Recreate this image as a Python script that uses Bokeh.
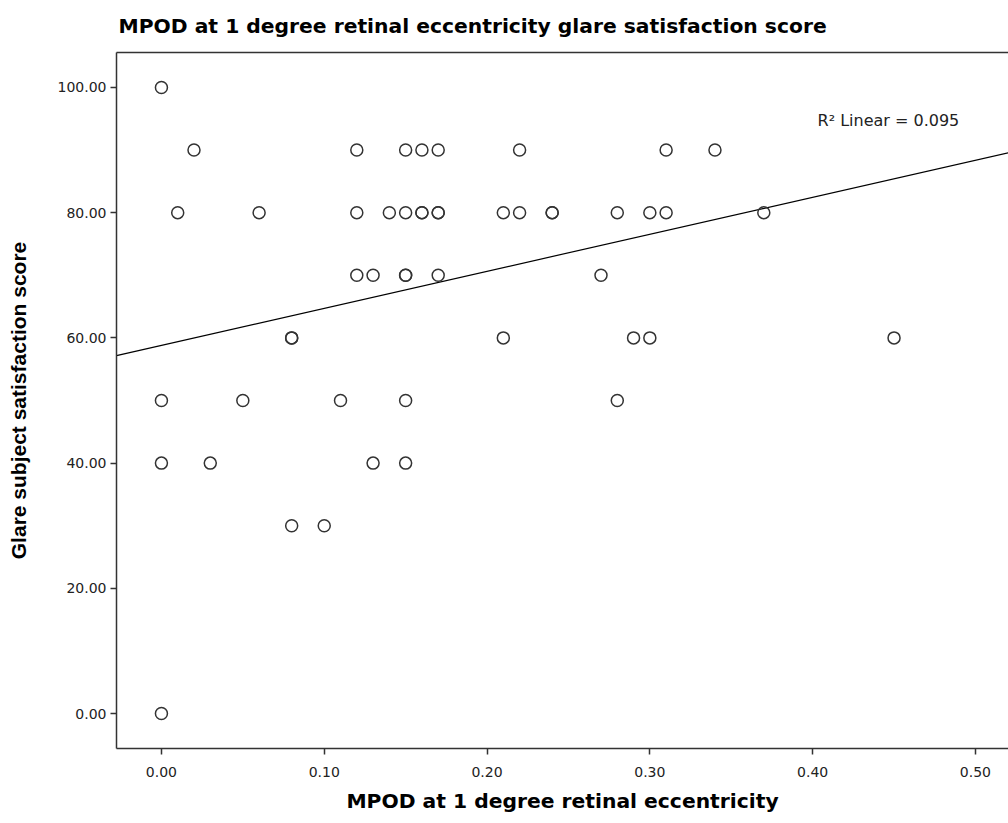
import numpy as np
from bokeh.plotting import figure
from bokeh.models import Range1d, FixedTicker, CustomJSTickFormatter, LinearAxis, Label, ColumnDataSource
from bokeh.embed import file_html
from bokeh.resources import INLINE

# Data (MPOD at 1 degree, glare satisfaction score)
mpod = [0.00,
        0.02, 0.12, 0.15, 0.16, 0.17, 0.22, 0.31, 0.34,
        0.01, 0.06, 0.12, 0.14, 0.15, 0.16, 0.16, 0.17, 0.17, 0.21, 0.22, 0.24, 0.24, 0.28, 0.30, 0.31, 0.37,
        0.12, 0.13, 0.15, 0.15, 0.17, 0.27,
        0.08, 0.08, 0.21, 0.29, 0.30, 0.45,
        0.00, 0.05, 0.11, 0.15, 0.28,
        0.00, 0.03, 0.13, 0.15,
        0.08, 0.10,
        0.00]
score = [100.0,
         90, 90, 90, 90, 90, 90, 90, 90,
         80, 80, 80, 80, 80, 80, 80, 80, 80, 80, 80, 80, 80, 80, 80, 80, 80,
         70, 70, 70, 70, 70, 70,
         60, 60, 60, 60, 60, 60,
         50, 50, 50, 50, 50,
         40, 40, 40, 40,
         30, 30,
         0]
x_ticks = [0.0, 0.1, 0.2, 0.3, 0.4, 0.5]
y_ticks = [0, 20, 40, 60, 80, 100]
r2_text = "R\u00b2 Linear = 0.095"

x = np.array(mpod, dtype=float)
y = np.array(score, dtype=float)
slope, intercept = np.polyfit(x, y, 1)

xr = Range1d(-0.0276, 0.5203)
yr = Range1d(-5.58, 105.58)

HFONT = "DejaVu Sans"      # horizontal texts (wider glyphs like the reference)
VFONT = "Liberation Sans"  # vertical axis label

p = figure(width=1008, height=823, x_range=xr, y_range=yr,
           output_backend="svg", toolbar_location=None,
           min_border_left=116, min_border_right=0, min_border_top=51, min_border_bottom=75,
           background_fill_color="white", border_fill_color="white")
p.outline_line_color = None
p.grid.visible = False

p.title.text = "MPOD at 1 degree retinal eccentricity glare satisfaction score"
p.title.text_font = HFONT
p.title.text_font_size = "20.3px"
p.title.text_font_style = "bold"
p.title.text_color = "black"
p.title.offset = 2
p.title.vertical_align = "top"
p.title.standoff = 26

for ax in [p.xaxis[0], p.yaxis[0]]:
    ax.axis_line_color = "#333333"
    ax.axis_line_width = 1.5
    ax.major_tick_line_color = "#333333"
    ax.major_tick_line_width = 1.5
    ax.major_tick_out = 6
    ax.major_tick_in = 0
    ax.minor_tick_line_color = None
    ax.major_label_text_font = HFONT
    ax.major_label_text_font_size = "14px"
    ax.major_label_text_color = "#222222"
    ax.axis_label_text_font_style = "bold"
    ax.axis_label_text_color = "black"

p.xaxis.axis_label_text_font = HFONT
p.xaxis.axis_label_text_font_size = "20.3px"
p.yaxis.axis_label_text_font = VFONT
p.yaxis.axis_label_text_font_size = "21px"

p.xaxis.ticker = FixedTicker(ticks=x_ticks)
p.yaxis.ticker = FixedTicker(ticks=y_ticks)
p.xaxis.formatter = CustomJSTickFormatter(code="return tick.toFixed(2);")
p.yaxis.formatter = CustomJSTickFormatter(code="return tick.toFixed(2);")
p.xaxis.axis_label = "MPOD at 1 degree retinal eccentricity"
p.yaxis.axis_label = "Glare subject satisfaction score"
p.xaxis.major_label_standoff = 12
p.xaxis.axis_label_standoff = 9
p.yaxis.major_label_standoff = 4
p.yaxis.axis_label_standoff = 25

top = LinearAxis(axis_line_color="#333333", axis_line_width=1.5,
                 major_tick_line_color=None, minor_tick_line_color=None,
                 major_label_text_font_size="0px", ticker=FixedTicker(ticks=[]))
p.add_layout(top, "above")

# regression line across the full frame
lx = np.array([xr.start, xr.end])
ly = intercept + slope * lx
p.line(lx, ly, line_color="black", line_width=1.2)

src = ColumnDataSource(dict(x=mpod, y=score))
p.scatter("x", "y", source=src, marker="circle", size=12, fill_color=None,
          line_color="#333333", line_width=1.5)

p.add_layout(Label(x=0.403, y=94.7, text=r2_text, text_font=HFONT, text_font_size="16px",
                   text_color="#222222", text_baseline="middle"))

open("out.html", "w").write(file_html(p, INLINE))
